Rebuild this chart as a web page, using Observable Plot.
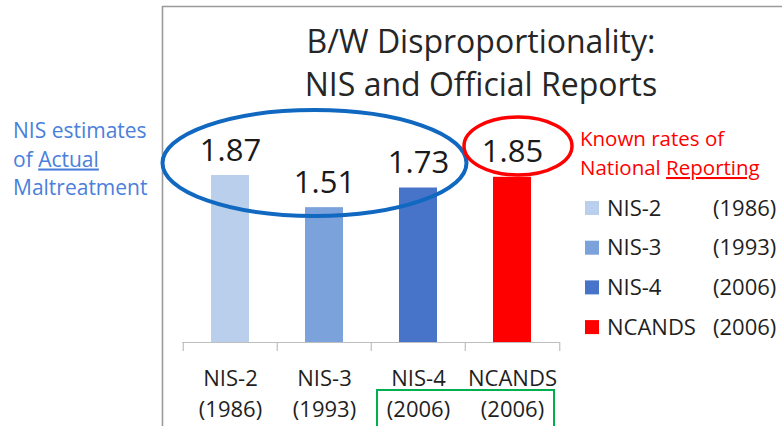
<!DOCTYPE html>
<html>
<head>
<meta charset="utf-8">
<script src="https://cdn.jsdelivr.net/npm/d3@7"></script>
<script src="https://cdn.jsdelivr.net/npm/@observablehq/plot@0.6"></script>
<style>
  html, body { margin: 0; padding: 0; background: #fff; }
  #wrap { position: relative; width: 782px; height: 426px; overflow: hidden; font-family: "Open Sans", sans-serif; }
  #chart, #overlay { position: absolute; left: 0; top: 0; }
  #overlay { pointer-events: none; }
</style>
</head>
<body>
<div id="wrap">
  <div id="chart"></div>
  <svg id="overlay" width="782" height="426"></svg>
</div>
<script>
// ---- data ----
const categories = ["NIS-2", "NIS-3", "NIS-4", "NCANDS"];
const years = ["(1986)", "(1993)", "(2006)", "(2006)"];
const values = [1.87, 1.51, 1.73, 1.85];
const colors = ["#bacfeb", "#7ca2db", "#4774c8", "#ff0000"];
const titleLines = ["B/W Disproportionality:", "NIS and Official Reports"];
const leftNote = ["NIS estimates", "of |Actual", "Maltreatment"];
const rightNote = ["Known rates of", "National |Reporting"];

const data = categories.map((c, i) => ({cat: c, year: years[i], value: values[i], color: colors[i]}));

const W = 782, H = 426;
const mL = 182, mR = 222, mT = 163.4, mB = 84;
const step = (W - mL - mR) / categories.length;

const plot = Plot.plot({
  width: W, height: H,
  marginLeft: mL, marginRight: mR, marginTop: mT, marginBottom: mB,
  style: {background: "transparent", fontFamily: "Open Sans, sans-serif", overflow: "visible"},
  x: {domain: categories, paddingInner: 0.6, paddingOuter: 0.3, axis: null},
  y: {domain: [0, 2], axis: null},
  color: {domain: categories, range: colors},
  marks: [
    Plot.barY(data, {x: "cat", y: "value", fill: "cat"}),
    Plot.ruleY([0], {stroke: "#bfbfbf", strokeWidth: 1.2}),
    Plot.ruleX(data, {x: "cat", y1: 0, y2: -0.1, dx: -step / 2, stroke: "#bfbfbf", strokeWidth: 1.2}),
    Plot.ruleX(data.slice(-1), {x: "cat", y1: 0, y2: -0.1, dx: step / 2, stroke: "#bfbfbf", strokeWidth: 1.2}),
    Plot.text(data, {x: "cat", y: "value", text: d => d.value.toFixed(2), lineAnchor: "bottom", dy: -15, fontSize: 31, fill: "#1a1a1a"}),
    Plot.text(data, {x: "cat", text: d => d.cat + "\n" + d.year, frameAnchor: "bottom", lineAnchor: "top", dy: 22, lineHeight: 1.4, fontSize: 22, fill: "#1f1f1f"})
  ]
});
document.getElementById("chart").appendChild(plot);

// ---- overlay annotations ----
const svg = d3.select("#overlay");
// frame
svg.append("path").attr("d", `M162.5,${H} V6.5 H${W}`).attr("fill", "none").attr("stroke", "#9a9a9a").attr("stroke-width", 1.6);

// title
const t = svg.append("text").attr("text-anchor", "middle").attr("font-size", 32).attr("fill", "#262626").attr("font-family", "Open Sans, sans-serif");
titleLines.forEach((s, i) => t.append("tspan").attr("x", 481).attr("y", 53 + i * 43).text(s));

function noteText(lines, x, y0, lh, size, color) {
  const g = svg.append("text").attr("font-size", size).attr("fill", color).attr("font-family", "Open Sans, sans-serif");
  lines.forEach((s, i) => {
    const parts = s.split("|");
    g.append("tspan").attr("x", x).attr("y", y0 + i * lh).text(parts[0]);
    if (parts.length > 1) g.append("tspan").style("text-decoration", "underline").text(parts[1]);
  });
}
noteText(leftNote, 13, 138, 28.5, 21, "#4a80db");
noteText(rightNote, 580, 146, 29, 20.5, "#ff0000");

// ellipses
svg.append("ellipse").attr("cx", 314.5).attr("cy", 163).attr("rx", 152).attr("ry", 53)
  .attr("fill", "none").attr("stroke", "#1068c0").attr("stroke-width", 4);
svg.append("ellipse").attr("cx", 518).attr("cy", 146).attr("rx", 54).attr("ry", 29)
  .attr("fill", "none").attr("stroke", "#ff0000").attr("stroke-width", 3.5);

// green box
svg.append("rect").attr("x", 377).attr("y", 390).attr("width", 177).attr("height", 50)
  .attr("fill", "none").attr("stroke", "#00b050").attr("stroke-width", 2);

// legend
data.forEach((d, i) => {
  const cy = 208 + i * 39.7;
  svg.append("rect").attr("x", 585).attr("y", cy - 7).attr("width", 14).attr("height", 14).attr("fill", d.color);
  svg.append("text").attr("x", 607).attr("y", cy + 7.5).attr("font-size", 22).attr("fill", "#1f1f1f").attr("font-family", "Open Sans, sans-serif").text(d.cat);
  svg.append("text").attr("x", 713).attr("y", cy + 7.5).attr("font-size", 22).attr("fill", "#1f1f1f").attr("font-family", "Open Sans, sans-serif").text(d.year);
});
</script>
</body>
</html>
